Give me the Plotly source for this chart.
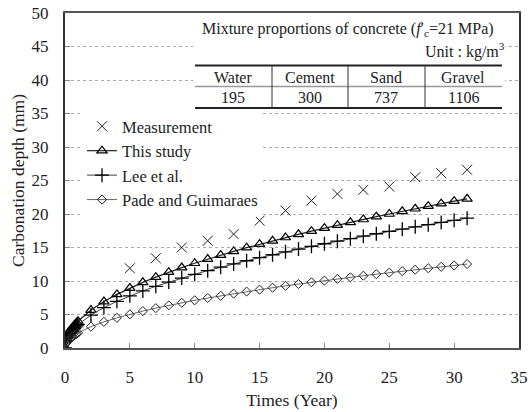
import plotly.graph_objects as go

# ---------------- data ----------------
meas_t = [5, 7, 9, 11, 13, 15, 17, 19, 21, 23, 25, 27, 29, 31]
meas_d = [11.9, 13.4, 15.0, 16.0, 17.0, 19.0, 20.5, 22.0, 23.0, 23.6, 24.1, 25.5, 26.1, 26.6]

model_t = [0, 0.1, 0.2, 0.3, 0.4, 0.5, 0.6, 0.7, 0.8, 0.9,
           1, 2, 3, 4, 5, 6, 7, 8, 9, 10, 11, 12, 13, 14, 15, 16,
           17, 18, 19, 20, 21, 22, 23, 24, 25, 26, 27, 28, 29, 30, 31]
this_study = [0, 1.26, 1.79, 2.19, 2.53, 2.83, 3.10, 3.35, 3.58, 3.79,
              4.00, 5.66, 6.93, 8.00, 8.94, 9.80, 10.58, 11.31, 12.00, 12.65,
              13.27, 13.86, 14.42, 14.97, 15.49, 16.00, 16.49, 16.97, 17.44,
              17.89, 18.33, 18.76, 19.18, 19.60, 20.00, 20.40, 20.78, 21.17,
              21.54, 21.91, 22.27]
lee = [0, 1.10, 1.56, 1.91, 2.20, 2.46, 2.70, 2.91, 3.11, 3.30,
       3.48, 4.92, 6.03, 6.96, 7.78, 8.52, 9.21, 9.84, 10.44, 11.00,
       11.54, 12.06, 12.55, 13.02, 13.48, 13.92, 14.35, 14.76, 15.17,
       15.56, 15.95, 16.32, 16.69, 17.05, 17.40, 17.74, 18.08, 18.41,
       18.74, 19.06, 19.38]
pade = [0, 0.71, 1.01, 1.23, 1.42, 1.59, 1.74, 1.88, 2.01, 2.13,
        2.25, 3.18, 3.90, 4.50, 5.03, 5.51, 5.95, 6.36, 6.75, 7.12,
        7.46, 7.79, 8.11, 8.42, 8.71, 9.00, 9.28, 9.55, 9.81, 10.06,
        10.31, 10.55, 10.79, 11.02, 11.25, 11.47, 11.69, 11.91, 12.12,
        12.32, 12.53]

series_names = ["Measurement", "This study", "Lee et al.", "Pade and Guimaraes"]

x_ticks = [0, 5, 10, 15, 20, 25, 30, 35]
y_ticks = [0, 5, 10, 15, 20, 25, 30, 35, 40, 45, 50]

table_title = "Mixture proportions of concrete (<i>f</i>′<sub>c</sub>=21 MPa)"
table_unit = "Unit : kg/m<sup>3</sup>"
table_headers = ["Water", "Cement", "Sand", "Gravel"]
table_values = ["195", "300", "737", "1106"]

# ---------------- figure ----------------
FONT = "Liberation Serif, Times New Roman, serif"
W, H = 528, 412
# plot area in page pixels: x 65..519, y 13..348
PL, PR, PT, PB = 65, 519, 13, 348
ML, MT, MR, MB = PL, PT, W - PR, H - PB
PW, PH = PR - PL, PB - PT


def px(xp):
    return (xp - PL) / PW


def py(yp):
    return (PB - yp) / PH


fig = go.Figure()
fig.add_trace(go.Scatter(
    x=meas_t, y=meas_d, mode="markers", name=series_names[0],
    marker=dict(symbol="x-thin-open", size=10, color="#222",
                line=dict(width=1, color="#222"))))
fig.add_trace(go.Scatter(
    x=model_t, y=this_study, mode="lines+markers", name=series_names[1],
    line=dict(color="#222", width=1.2),
    marker=dict(symbol="triangle-up-open", size=9, color="#000",
                line=dict(width=1.2, color="#000"))))
fig.add_trace(go.Scatter(
    x=model_t, y=lee, mode="lines+markers", name=series_names[2],
    line=dict(color="#444", width=1),
    marker=dict(symbol="cross-thin-open", size=10, color="#000",
                line=dict(width=1.3, color="#000"))))
fig.add_trace(go.Scatter(
    x=model_t, y=pade, mode="lines+markers", name=series_names[3],
    line=dict(color="#666", width=1),
    marker=dict(symbol="diamond-open", size=7, color="#222",
                line=dict(width=1, color="#222"))))

# table inset (white box + rules + text)
shapes = [
    dict(type="rect", xref="paper", yref="paper", x0=px(193), x1=px(505),
         y0=py(111), y1=py(14), fillcolor="white", line=dict(width=0),
         layer="above"),
    dict(type="line", xref="paper", yref="paper", x0=px(195), x1=px(502),
         y0=py(65.5), y1=py(65.5), line=dict(color="#222", width=2)),
    dict(type="line", xref="paper", yref="paper", x0=px(195), x1=px(502),
         y0=py(86.5), y1=py(86.5), line=dict(color="#999", width=1.5)),
    dict(type="line", xref="paper", yref="paper", x0=px(195), x1=px(502),
         y0=py(108), y1=py(108), line=dict(color="#222", width=2)),
]
for xs in [272, 348, 425]:
    shapes.append(dict(type="line", xref="paper", yref="paper",
                       x0=px(xs), x1=px(xs), y0=py(66), y1=py(108),
                       line=dict(color="#333", width=1)))

TFONT = dict(family=FONT, size=16, color="#222")
annotations = [
    dict(text=table_title, xref="paper", yref="paper", x=px(348), y=py(29),
         xanchor="center", yanchor="middle", showarrow=False, font=TFONT),
    dict(text=table_unit, xref="paper", yref="paper", x=px(507), y=py(50),
         xanchor="right", yanchor="middle", showarrow=False, font=TFONT),
]
col_centers = [233, 310, 386, 463]
for cx, hdr, val in zip(col_centers, table_headers, table_values):
    annotations.append(dict(text=hdr, xref="paper", yref="paper", x=px(cx),
                            y=py(77), xanchor="center", yanchor="middle",
                            showarrow=False, font=TFONT))
    annotations.append(dict(text=val, xref="paper", yref="paper", x=px(cx),
                            y=py(98), xanchor="center", yanchor="middle",
                            showarrow=False, font=TFONT))

fig.update_layout(
    width=W, height=H,
    margin=dict(l=ML, r=MR, t=MT, b=MB, autoexpand=False),
    paper_bgcolor="white", plot_bgcolor="white",
    font=dict(family=FONT, size=17, color="#222"),
    showlegend=True,
    legend=dict(x=px(82), y=py(109), xanchor="left", yanchor="top",
                bgcolor="white", borderwidth=0, itemwidth=30,
                font=dict(family=FONT, size=16.5, color="#222"),
                tracegroupgap=0),
    xaxis=dict(range=[0, 35], tickvals=x_ticks,
               ticktext=[str(v) for v in x_ticks],
               showgrid=False, zeroline=False, automargin=False,
               showline=True, linecolor="#555", linewidth=2, mirror=True,
               ticks="inside", ticklen=5, tickcolor="#888", tickwidth=1,
               ticklabelstandoff=13, ticklabeloverflow="allow",
               tickfont=dict(family=FONT, size=17),
               title=dict(text="Times (Year)", standoff=7,
                          font=dict(family=FONT, size=17.5))),
    yaxis=dict(range=[0, 50], tickvals=y_ticks,
               ticktext=[str(v) for v in y_ticks],
               showgrid=True, gridcolor="#aaa", griddash="dot", gridwidth=1,
               zeroline=False, automargin=False,
               showline=True, linecolor="#333", linewidth=2, mirror=True,
               ticks="inside", ticklen=5, tickcolor="#888", tickwidth=1,
               ticklabelstandoff=11, ticklabeloverflow="allow",
               tickfont=dict(family=FONT, size=17),
               title=dict(text="Carbonation depth (mm)", standoff=2,
                          font=dict(family=FONT, size=17.5))),
    shapes=shapes,
    annotations=annotations,
)

# the page's default 8px body margin is removed so the 528x412 figure
# fills the browser window exactly; the mode bar is hidden
fig.write_html("out.html",
               config={"displayModeBar": False},
               post_script="document.body.style.margin='0px';"
                           "document.body.style.overflow='hidden';")
